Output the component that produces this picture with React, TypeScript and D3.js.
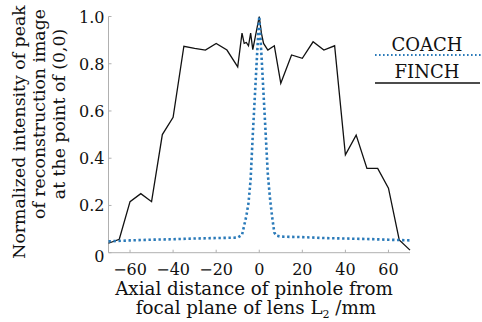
import React from "react";
import * as d3 from "d3";

// FINCH (solid black)
const finchX = [-70, -65, -60, -55, -50, -45, -40, -35, -30, -25, -20, -15, -10, -8, -7, -6, -5, -4, -3, -1.5, 0, 1, 2, 4, 7, 10, 15, 20, 25, 30, 35, 40, 45, 50, 55, 60, 65, 70];
const finchY = [0.04, 0.057, 0.216, 0.25, 0.216, 0.5, 0.573, 0.874, 0.865, 0.858, 0.886, 0.858, 0.787, 0.93, 0.886, 0.89, 0.876, 0.93, 0.86, 0.93, 1.0, 0.93, 0.886, 0.858, 0.876, 0.717, 0.837, 0.823, 0.893, 0.858, 0.876, 0.414, 0.498, 0.357, 0.357, 0.273, 0.054, 0.011];

// COACH (blue dotted)
const coachX = [-70, -60, -50, -40, -30, -20, -10, -8, -6, -5, -4, -3, -2, -1, 0, 1, 2, 3, 4, 5, 6, 7, 8, 10, 20, 30, 40, 50, 60, 70];
const coachY = [0.048, 0.052, 0.055, 0.057, 0.06, 0.062, 0.064, 0.075, 0.155, 0.21, 0.31, 0.5, 0.67, 0.84, 1.0, 0.84, 0.67, 0.5, 0.33, 0.23, 0.15, 0.085, 0.072, 0.068, 0.066, 0.062, 0.06, 0.058, 0.055, 0.052];

const xTicks = [-60, -40, -20, 0, 20, 40, 60];
const yTicks = [0, 0.2, 0.4, 0.6, 0.8, 1.0];
const legendNames = ["COACH", "FINCH"];

const FONT = "'DejaVu Serif', serif";

export default function App() {
  const width = 482;
  const height = 322;
  const x = d3.scaleLinear().domain([-70, 70]).range([108.5, 410]);
  const y = d3.scaleLinear().domain([0, 1]).range([252.7, 16.5]);

  const line = d3
    .line<[number, number]>()
    .x((d) => x(d[0]))
    .y((d) => y(d[1]));

  const finch = finchX.map((v, i) => [v, finchY[i]] as [number, number]);
  const coach = coachX.map((v, i) => [v, coachY[i]] as [number, number]);

  const fmtY = (v: number) => (v === 0 ? "0" : v.toFixed(1));
  const fmtX = (v: number) => (v < 0 ? "\u2212" + Math.abs(v) : String(v));

  return (
    <svg
      width={width}
      height={height}
      style={{ position: "absolute", left: 0, top: 0, background: "#fff" }}
      fontFamily={FONT}
    >
      {/* axes */}
      <line x1={x(-70)} x2={x(-70)} y1={y(0)} y2={y(1)} stroke="#b0b0b0" strokeWidth={1} />
      <line x1={x(-70)} x2={x(70)} y1={y(0)} y2={y(0)} stroke="#b0b0b0" strokeWidth={1} />
      {xTicks.map((t) => (
        <g key={"xt" + t}>
          <line x1={x(t)} x2={x(t)} y1={y(0)} y2={y(0) - 3} stroke="#b0b0b0" />
          <text x={x(t)} y={y(0) + 22} textAnchor="middle" fontSize={16} fill="#111">
            {fmtX(t)}
          </text>
        </g>
      ))}
      {yTicks.map((t) => (
        <g key={"yt" + t}>
          <line x1={x(-70)} x2={x(-70) + 3} y1={y(t)} y2={y(t)} stroke="#b0b0b0" />
          <text x={x(-70) - 4} y={y(t) + (t === 0 ? 9 : 6)} textAnchor="end" fontSize={16} fill="#111">
            {fmtY(t)}
          </text>
        </g>
      ))}

      {/* series */}
      <path d={line(finch) || ""} fill="none" stroke="#111" strokeWidth={1.3} />
      <path
        d={line(coach) || ""}
        fill="none"
        stroke="#2a7ab9"
        strokeWidth={2.6}
        strokeDasharray="2.4 2.6"
      />

      {/* legend */}
      <text x={427} y={51} textAnchor="middle" fontSize={18} fill="#111">
        {legendNames[0]}
      </text>
      <line x1={375} x2={482} y1={55} y2={55} stroke="#2a7ab9" strokeWidth={2} strokeDasharray="1.6 2.4" />
      <text x={427} y={78} textAnchor="middle" fontSize={18} fill="#111">
        {legendNames[1]}
      </text>
      <line x1={375} x2={480} y1={83} y2={83} stroke="#111" strokeWidth={1.3} />

      {/* x title */}
      <text x={254} y={295} textAnchor="middle" fontSize={18.3} fill="#111">
        Axial distance of pinhole from
      </text>
      <text x={256} y={314} textAnchor="middle" fontSize={18.3} fill="#111">
        focal plane of lens L<tspan fontSize={11} dy={4}>2</tspan>
        <tspan dy={-4}> /mm</tspan>
      </text>

      {/* y title */}
      <text transform="translate(25,132) rotate(-90)" textAnchor="middle" fontSize={17.3} fill="#111">
        Normalized intensity of peak
      </text>
      <text transform="translate(45,114) rotate(-90)" textAnchor="middle" fontSize={17.3} fill="#111">
        of reconstruction image
      </text>
      <text transform="translate(65,114) rotate(-90)" textAnchor="middle" fontSize={17.3} fill="#111">
        at the point of (0,0)
      </text>
    </svg>
  );
}
